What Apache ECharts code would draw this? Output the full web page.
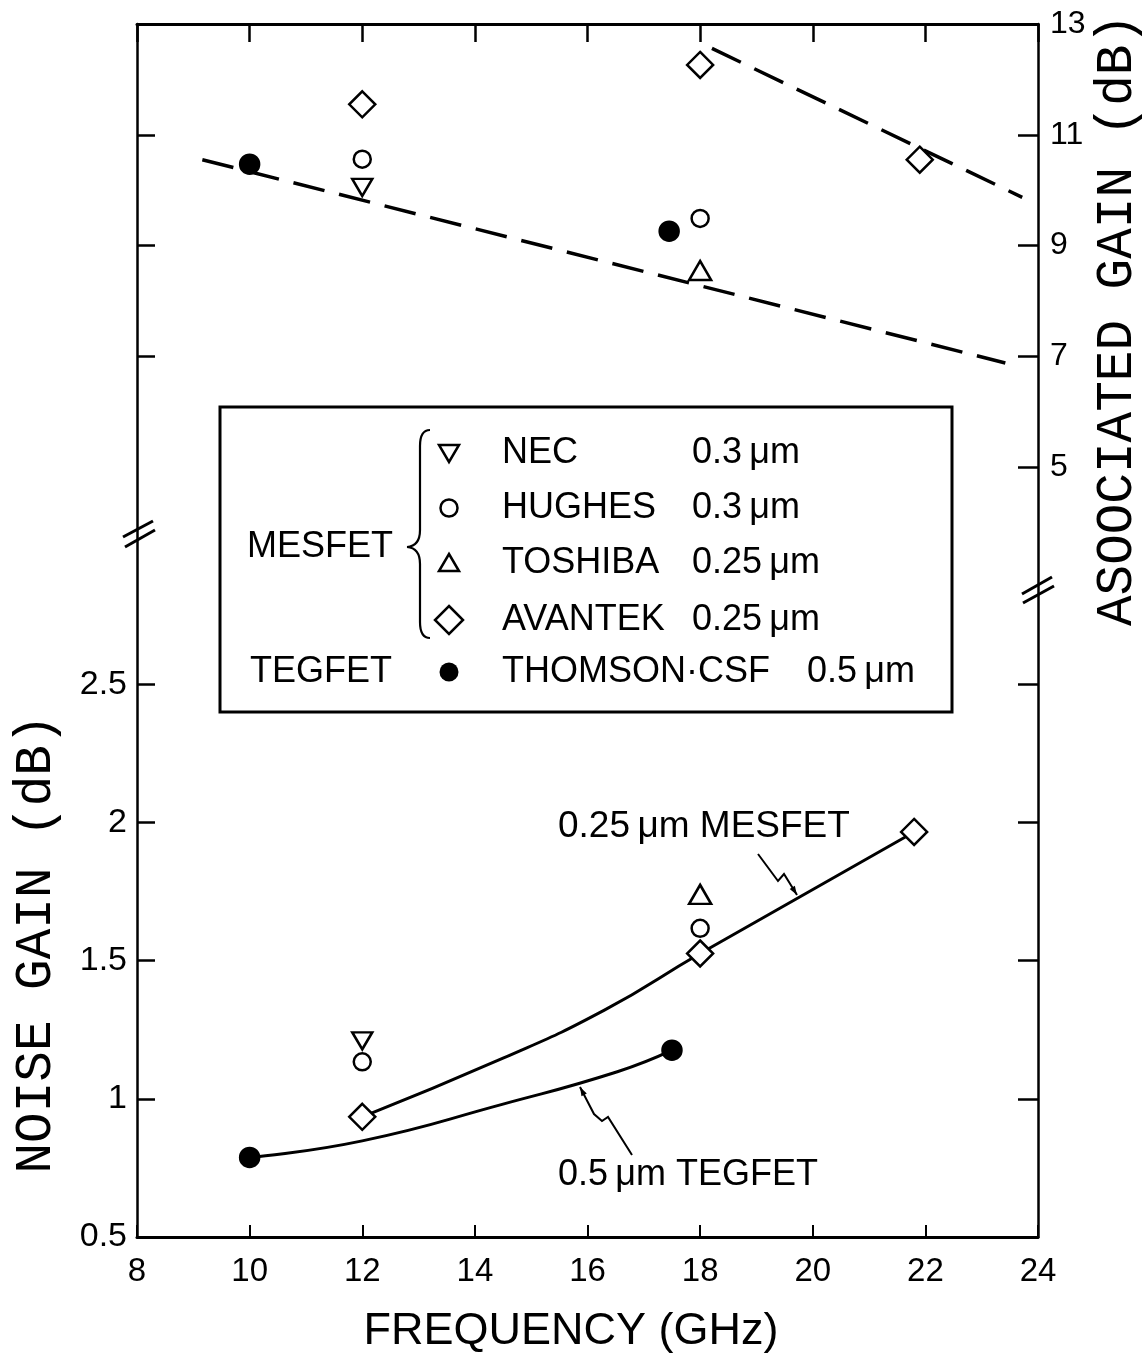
<!DOCTYPE html>
<html>
<head>
<meta charset="utf-8">
<title>Noise and associated gain vs frequency</title>
<script src="https://cdn.jsdelivr.net/npm/echarts@6/dist/echarts.min.js"></script>
<style>
  html, body { margin: 0; padding: 0; background: #fff; }
  #chart { width: 1148px; height: 1363px; }
</style>
</head>
<body>
<div id="chart"></div>
<script>
// axis ranges (the two y scales share one frame, split by the break marks)
const freqMin = 8, freqMax = 24;
const noiseMin = 0.5, noiseMax = 4.89;
const gainMin = -8.9, gainMax = 13;

const noiseLabels = [0.5, 1, 1.5, 2, 2.5];
const gainLabels = [5, 7, 9, 11, 13];

// associated gain (dB), upper part
const necGain = [[12, 10.05]];
const hughesGain = [[12, 10.56], [18, 9.49]];
const toshibaGain = [[18, 8.55]];
const avantekGain = [[12, 11.55], [18, 12.26], [21.9, 10.55]];
const thomsonGain = [[10, 10.47], [17.45, 9.26]];
const gainTrendLow = [[9.16, 10.55], [23.42, 6.88]];
const gainTrendHigh = [[18.21, 12.56], [23.72, 9.87]];

// noise (dB), lower part
const necNoise = [[12, 1.21]];
const hughesNoise = [[12, 1.134], [18, 1.617]];
const toshibaNoise = [[18, 1.74]];
const avantekNoise = [[12, 0.935], [18, 1.526], [21.8, 1.966]];
const thomsonNoise = [[10, 0.788], [17.5, 1.176]];
const mesfetCurve = [[12, 0.935], [14.5, 1.147], [16.3, 1.321], [18, 1.526], [21.8, 1.966]];
const tegfetCurve = [[10, 0.788], [12, 0.848], [14.5, 0.981], [16.53, 1.098], [17.5, 1.176]];

const sansFont = '"Liberation Sans", Arial, sans-serif';
const monoFont = '"Liberation Mono", "DejaVu Sans Mono", monospace';

// ticks of one side are repeated on the other side at the same height
function gainToNoise(g) {
  return noiseMin + (g - gainMin) / (gainMax - gainMin) * (noiseMax - noiseMin);
}
function noiseToGain(n) {
  return gainMin + (n - noiseMin) / (noiseMax - noiseMin) * (gainMax - gainMin);
}
const leftTicks = [1, 1.5, 2, 2.5].concat([7, 9, 11].map(gainToNoise));
const rightTicks = [5, 7, 9, 11].concat([1, 1.5, 2, 2.5].map(noiseToGain));

const markers = {
  nec: { symbol: 'triangle', symbolSize: [20, 17], symbolRotate: 180, fill: '#fff' },
  hughes: { symbol: 'circle', symbolSize: 17, fill: '#fff' },
  toshiba: { symbol: 'triangle', symbolSize: [22, 19], symbolRotate: 0, fill: '#fff' },
  avantek: { symbol: 'diamond', symbolSize: 26, fill: '#fff' },
  thomson: { symbol: 'circle', symbolSize: 19, fill: '#000' }
};

function scatter(name, data, yIndex, m) {
  return {
    name: name,
    type: 'scatter',
    yAxisIndex: yIndex,
    data: data,
    symbol: m.symbol,
    symbolSize: m.symbolSize,
    symbolRotate: m.symbolRotate || 0,
    itemStyle: { color: m.fill, borderColor: '#000', borderWidth: 2.5, opacity: 1 },
    z: 5,
    silent: true
  };
}

function curve(data, yIndex, dashed) {
  return {
    type: 'line',
    yAxisIndex: yIndex,
    data: data,
    smooth: dashed ? false : 0.5,
    showSymbol: false,
    symbol: 'none',
    lineStyle: { color: '#000', width: dashed ? 3.5 : 3, type: dashed ? [32, 15] : 'solid' },
    z: 2,
    silent: true
  };
}

// small arrow head at the end of a leader
function arrowHead(from, to) {
  const dx = to[0] - from[0], dy = to[1] - from[1];
  const len = Math.sqrt(dx * dx + dy * dy);
  const ux = dx / len, uy = dy / len;
  const bx = to[0] - ux * 9, by = to[1] - uy * 9;
  return {
    type: 'polygon',
    shape: { points: [to, [bx - uy * 3, by + ux * 3], [bx + uy * 3, by - ux * 3]] },
    style: { fill: '#000' }
  };
}

function legendSymbol(kind, cx, cy) {
  const st = { fill: '#fff', stroke: '#000', lineWidth: 2.5 };
  if (kind === 'nec') return { type: 'polygon', shape: { points: [[cx - 10, cy - 8], [cx + 10, cy - 8], [cx, cy + 9]] }, style: st };
  if (kind === 'hughes') return { type: 'circle', shape: { cx: cx, cy: cy, r: 8.5 }, style: st };
  if (kind === 'toshiba') return { type: 'polygon', shape: { points: [[cx, cy - 9], [cx + 10, cy + 8], [cx - 10, cy + 8]] }, style: st };
  if (kind === 'avantek') return { type: 'polygon', shape: { points: [[cx, cy - 14], [cx + 14, cy], [cx, cy + 14], [cx - 14, cy]] }, style: st };
  return { type: 'circle', shape: { cx: cx, cy: cy, r: 9.5 }, style: { fill: '#000' } };
}

function txt(text, x, y, size) {
  return {
    type: 'text',
    x: x,
    y: y,
    z: 10,
    style: { text: text, fill: '#000', fontSize: size, fontFamily: sansFont, align: 'left', verticalAlign: 'middle' }
  };
}

const legendRows = [
  { kind: 'nec', name: 'NEC', size: '0.3\u2009μm', y: 453 },
  { kind: 'hughes', name: 'HUGHES', size: '0.3\u2009μm', y: 508 },
  { kind: 'toshiba', name: 'TOSHIBA', size: '0.25\u2009μm', y: 563 },
  { kind: 'avantek', name: 'AVANTEK', size: '0.25\u2009μm', y: 620 },
  { kind: 'thomson', name: 'THOMSON·CSF', size: '0.5\u2009μm', y: 672 }
];

const graphics = [
  { type: 'rect', z: 0, shape: { x: 220, y: 407, width: 732, height: 305 }, style: { fill: '#fff', stroke: '#000', lineWidth: 3 } },
  txt('MESFET', 247, 547, 36),
  txt('TEGFET', 250, 672, 36),
  // brace
  { type: 'bezierCurve', shape: { x1: 430, y1: 430, cpx1: 420, cpy1: 430, x2: 420, y2: 446 }, style: { stroke: '#000', lineWidth: 2.2, fill: null } },
  { type: 'line', shape: { x1: 420, y1: 446, x2: 420, y2: 530 }, style: { stroke: '#000', lineWidth: 2.2 } },
  { type: 'bezierCurve', shape: { x1: 420, y1: 530, cpx1: 420, cpy1: 546, x2: 407, y2: 547 }, style: { stroke: '#000', lineWidth: 2.2, fill: null } },
  { type: 'bezierCurve', shape: { x1: 407, y1: 547, cpx1: 420, cpy1: 548, x2: 420, y2: 564 }, style: { stroke: '#000', lineWidth: 2.2, fill: null } },
  { type: 'line', shape: { x1: 420, y1: 564, x2: 420, y2: 622 }, style: { stroke: '#000', lineWidth: 2.2 } },
  { type: 'bezierCurve', shape: { x1: 420, y1: 622, cpx1: 420, cpy1: 638, x2: 430, y2: 638 }, style: { stroke: '#000', lineWidth: 2.2, fill: null } },
  // axis titles
  {
    type: 'text', x: 36, y: 944, rotation: Math.PI / 2,
    style: { text: 'NOISE GAIN (dB)', fill: '#000', fontSize: 51, fontFamily: monoFont, align: 'center', verticalAlign: 'middle' }
  },
  {
    type: 'text', x: 1117, y: 320, rotation: Math.PI / 2,
    style: { text: 'ASOOCIATED GAIN (dB)', fill: '#000', fontSize: 51, fontFamily: monoFont, align: 'center', verticalAlign: 'middle' }
  },
  // curve annotations
  txt('0.25\u2009μm MESFET', 558, 827, 37),
  txt('0.5\u2009μm TEGFET', 558, 1175, 36),
  { type: 'polyline', shape: { points: [[758, 854], [778, 881], [784, 874], [797, 895]] }, style: { stroke: '#000', lineWidth: 2, fill: null } },
  arrowHead([784, 874], [797, 895]),
  { type: 'polyline', shape: { points: [[632, 1155], [608, 1117], [602, 1121], [594, 1114], [580, 1087]] }, style: { stroke: '#000', lineWidth: 2, fill: null } },
  arrowHead([594, 1114], [580, 1087]),
  // axis break marks
  { type: 'line', shape: { x1: 123, y1: 537, x2: 153, y2: 521 }, style: { stroke: '#000', lineWidth: 3 } },
  { type: 'line', shape: { x1: 125, y1: 547, x2: 155, y2: 530 }, style: { stroke: '#000', lineWidth: 3 } },
  { type: 'line', shape: { x1: 1022, y1: 594, x2: 1052, y2: 577 }, style: { stroke: '#000', lineWidth: 3 } },
  { type: 'line', shape: { x1: 1023, y1: 603, x2: 1054, y2: 586 }, style: { stroke: '#000', lineWidth: 3 } }
];

legendRows.forEach(function (r) {
  const s = legendSymbol(r.kind, 449, r.y);
  s.z = 10;
  graphics.push(s);
  graphics.push(txt(r.name, 502, r.y, 36));
  graphics.push(txt(r.size, r.kind === 'thomson' ? 807 : 692, r.y, 36));
});

const chart = echarts.init(document.getElementById('chart'));

const option = {
  backgroundColor: '#fff',
  animation: false,
  grid: { left: 137, right: 110, top: 24, bottom: 126 },
  xAxis: [
    {
      type: 'value', position: 'bottom', min: freqMin, max: freqMax, interval: 2,
      axisLine: { show: true, onZero: false, lineStyle: { color: '#000', width: 3 } },
      axisTick: { show: true, inside: true, length: 12, lineStyle: { color: '#000', width: 2 } },
      axisLabel: { color: '#000', fontSize: 33, fontFamily: sansFont, margin: 18 },
      splitLine: { show: false },
      name: 'FREQUENCY (GHz)', nameLocation: 'middle', nameGap: 72,
      nameTextStyle: { color: '#000', fontSize: 45, fontFamily: sansFont, padding: [0, 33, 0, 0] }
    },
    {
      type: 'value', position: 'top', min: freqMin, max: freqMax, interval: 2,
      axisLine: { show: true, onZero: false, lineStyle: { color: '#000', width: 3 } },
      axisTick: { show: true, inside: true, length: 18, lineStyle: { color: '#000', width: 2.5 } },
      axisLabel: { show: false },
      splitLine: { show: false }
    }
  ],
  yAxis: [
    {
      type: 'value', position: 'left', min: noiseMin, max: noiseMax,
      axisLine: { show: true, onZero: false, lineStyle: { color: '#000', width: 2.5 } },
      axisTick: { show: true, inside: true, length: 18, customValues: leftTicks, lineStyle: { color: '#000', width: 2.5 } },
      axisLabel: { color: '#000', fontSize: 34, fontFamily: sansFont, margin: 10, customValues: noiseLabels },
      splitLine: { show: false }
    },
    {
      type: 'value', position: 'right', min: gainMin, max: gainMax,
      axisLine: { show: true, onZero: false, lineStyle: { color: '#000', width: 2.5 } },
      axisTick: { show: true, inside: true, length: 20, customValues: rightTicks, lineStyle: { color: '#000', width: 2.5 } },
      axisLabel: { color: '#000', fontSize: 32, fontFamily: sansFont, margin: 12, customValues: gainLabels },
      splitLine: { show: false }
    }
  ],
  series: [
    curve(mesfetCurve, 0, false),
    curve(tegfetCurve, 0, false),
    curve(gainTrendLow, 1, true),
    curve(gainTrendHigh, 1, true),
    scatter('NEC', necGain, 1, markers.nec),
    scatter('HUGHES', hughesGain, 1, markers.hughes),
    scatter('TOSHIBA', toshibaGain, 1, markers.toshiba),
    scatter('AVANTEK', avantekGain, 1, markers.avantek),
    scatter('THOMSON-CSF', thomsonGain, 1, markers.thomson),
    scatter('NEC', necNoise, 0, markers.nec),
    scatter('HUGHES', hughesNoise, 0, markers.hughes),
    scatter('TOSHIBA', toshibaNoise, 0, markers.toshiba),
    scatter('AVANTEK', avantekNoise, 0, markers.avantek),
    scatter('THOMSON-CSF', thomsonNoise, 0, markers.thomson)
  ],
  graphic: graphics
};

chart.setOption(option);
</script>
</body>
</html>
